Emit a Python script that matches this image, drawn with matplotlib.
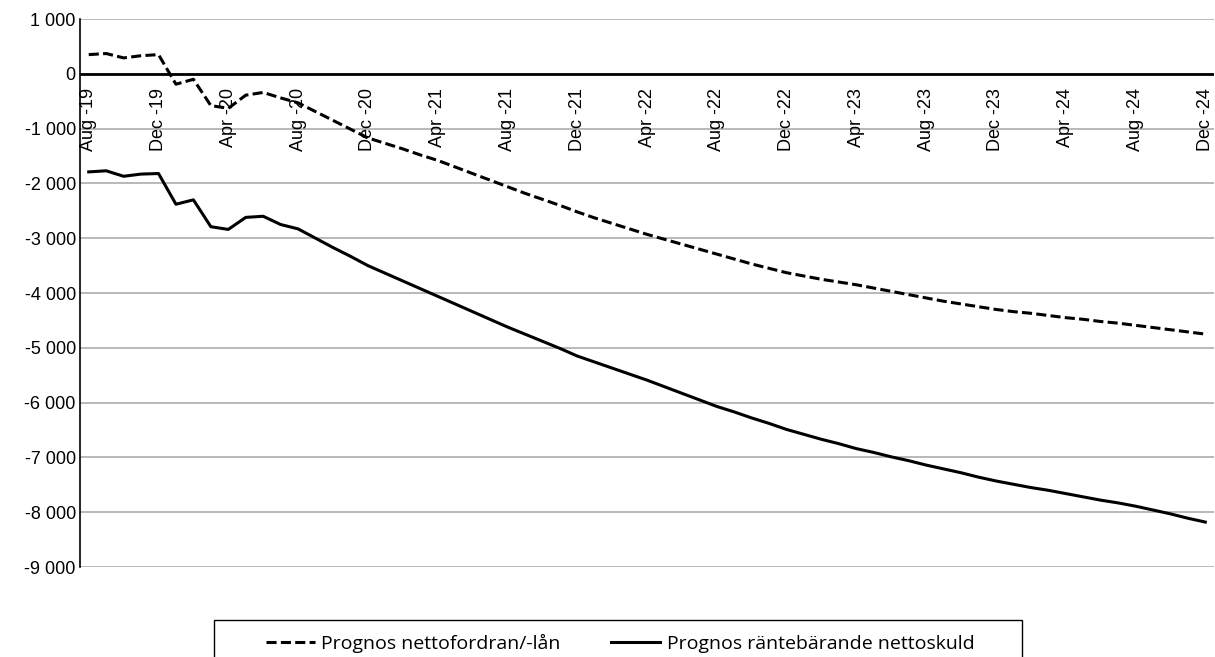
import numpy as np
import matplotlib
matplotlib.use("Agg")
import matplotlib.pyplot as plt
from matplotlib.lines import Line2D
from matplotlib.patches import Rectangle
from matplotlib import font_manager

# --- data (monthly, Aug 2019 .. Dec 2024) ---
months = ["Jan", "Feb", "Mar", "Apr", "May", "Jun",
          "Jul", "Aug", "Sep", "Oct", "Nov", "Dec"]
periods = [(y, m) for y in range(2019, 2025) for m in range(1, 13)
           if (y, m) >= (2019, 8)]
labels = ["%s -%02d" % (months[m - 1], y % 100) for y, m in periods]

nettofordran = [
    350, 370, 290, 330, 350,
    -190, -100, -580, -630, -390, -340, -440, -530, -690, -850, -1010, -1170,
    -1270, -1370, -1480, -1580, -1700, -1820, -1940, -2060, -2180, -2290, -2400, -2520,
    -2630, -2730, -2830, -2930, -3020, -3110, -3200, -3290, -3380, -3470, -3550, -3630,
    -3690, -3750, -3800, -3850, -3910, -3970, -4030, -4090, -4150, -4200, -4250, -4300,
    -4340, -4370, -4410, -4450, -4480, -4520, -4550, -4590, -4630, -4670, -4710, -4750,
]
nettoskuld = [
    -1790, -1770, -1870, -1830, -1820,
    -2380, -2300, -2790, -2840, -2620, -2600, -2750, -2830, -3000, -3170, -3330, -3500,
    -3640, -3780, -3920, -4060, -4200, -4340, -4480, -4620, -4750, -4880, -5010, -5150,
    -5260, -5370, -5480, -5590, -5710, -5830, -5950, -6070, -6170, -6280, -6380, -6490,
    -6580, -6670, -6750, -6840, -6910, -6990, -7060, -7140, -7210, -7280, -7360, -7430,
    -7490, -7550, -7600, -7660, -7720, -7780, -7830, -7890, -7960, -8030, -8110, -8180,
]
series_names = ["Prognos nettofordran/-lån", "Prognos räntebärande nettoskuld"]
yticks = list(range(-9000, 1001, 1000))

x = np.arange(len(labels))

plt.rcParams['font.family'] = ['Liberation Sans', 'DejaVu Sans']
installed = {f.name for f in font_manager.fontManager.ttflist}
legend_font = 'Liberation Sans Narrow' if 'Liberation Sans Narrow' in installed else 'Open Sans'

W, H = 1215, 657
fig = plt.figure(figsize=(W / 100, H / 100), dpi=100)
ax = fig.add_axes([80 / W, 1 - 567 / H, (1214 - 80) / W, (567 - 19) / H])

ax.plot(x, nettofordran, color='black', lw=2.2, linestyle=(0, (3.3, 1.4)),
        solid_capstyle='butt', dash_capstyle='butt')
ax.plot(x, nettoskuld, color='black', lw=2.2)

ax.set_xlim(-0.5, len(labels) - 0.5)
ax.set_ylim(-9000, 1000)
ax.set_yticks(yticks)
ax.set_yticklabels([("%d" % v if abs(v) < 1000 else "{:,}".format(v).replace(",", " "))
                    for v in yticks], fontsize=13)
ax.tick_params(axis='y', length=0, pad=3)
ax.set_xticks([])
ax.yaxis.grid(True, color='#a6a6a6', lw=1.1)
ax.set_axisbelow(True)
for side in ['top', 'right', 'bottom']:
    ax.spines[side].set_visible(False)
ax.spines['left'].set_linewidth(1.2)
ax.axhline(0, color='black', lw=2.0, zorder=1.5)

# category labels hang under the zero line
for i in range(0, len(labels), 4):
    ax.annotate(labels[i], xy=(i, 0), xytext=(0, -14), textcoords='offset pixels',
                rotation=90, ha='center', va='top', fontsize=13)

# legend box, cut off by the bottom edge as in the original
fig.patches.append(Rectangle((214 / W, -0.05), (1022 - 214) / W, 0.05 + (657 - 620) / H,
                             transform=fig.transFigure, fill=False,
                             edgecolor='black', lw=1.0))
handles = [Line2D([], [], color='black', lw=2.2, linestyle=(0, (3.3, 1.4))),
           Line2D([], [], color='black', lw=2.2)]
fig.legend(handles, series_names, loc='center left', ncol=2, frameon=False,
           bbox_to_anchor=(266 / W, 1 - 643 / H), borderaxespad=0, borderpad=0,
           handlelength=2.5, handletextpad=0.35, columnspacing=2.6,
           prop={'family': legend_font, 'size': 14})

fig.savefig("out.png", dpi=100)
